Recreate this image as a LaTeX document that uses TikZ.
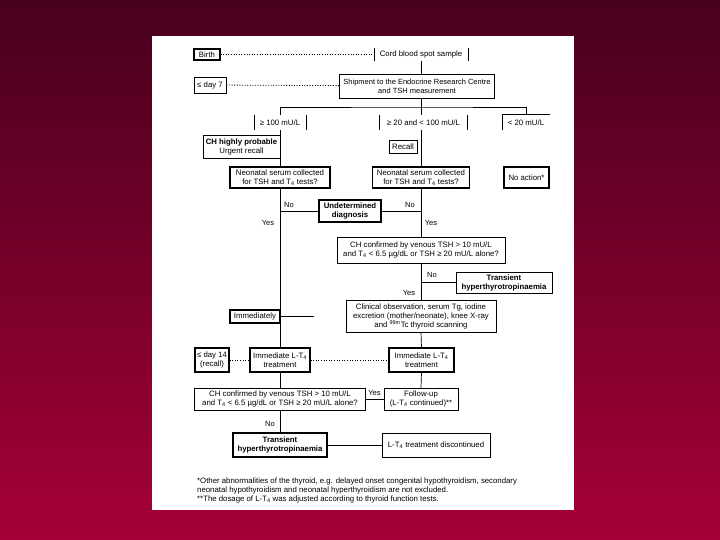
\documentclass[tikz,border=0pt]{standalone}
\usepackage{fontspec}
\setmainfont{Liberation Sans}
\usetikzlibrary{positioning}

\definecolor{bgtop}{RGB}{72,0,30}
\definecolor{bgbottom}{RGB}{165,0,55}
\newcommand{\Tfour}{T\textsubscript{4}}

\begin{document}
\begin{tikzpicture}[x=1pt, y=-1pt,
    stage/.style={draw, line width=0.7pt, inner sep=1pt, align=center, font=\fontsize{7.8}{9}\selectfont},
    stagebold/.style={stage, line width=1.2pt},
    open/.style={stage, draw=none},
    strong/.style={font=\fontsize{7.8}{9}\selectfont\bfseries},
    sz/.style 2 args={minimum width=#1pt, minimum height=#2pt},
    answer/.style={font=\fontsize{7.5}{8}\selectfont, inner sep=1pt},
    link/.style={line width=0.7pt},
    timeline/.style={line width=0.8pt, dash pattern=on 1pt off 1.6pt}]
    \useasboundingbox (0,0) rectangle (720,540);

    % Slide
    \shade[top color=bgtop, bottom color=bgbottom] (0,0) rectangle (720,540);
    \fill[white] (152,36) rectangle (574,510);

    % Screening
    \node[stagebold, sz={26}{11}] (birth) at (207,54.5) {Birth};
    \node[open, sz={93}{12}] (cord) at (421,54.5) {Cord blood spot sample};
    \node[stage, sz={32}{16}] (day7) at (210,85) {≤ day 7};
    \node[stage, font=\fontsize{7.5}{9}\selectfont, sz={155}{24}] (ship) at (417,86) {Shipment to the Endocrine Research Centre\\and TSH measurement};

    % TSH levels
    \node[open, sz={51}{15}] (high) at (280,122.5) {≥ 100 mU/L};
    \node[open, sz={87}{15}] (middle) at (423.5,122.5) {≥ 20 and < 100 mU/L};
    \node[open, sz={47}{15}] (low) at (526,122.5) {< 20 mU/L};

    \node[stage, sz={77}{23}] (urgent) at (241.5,146.5) {\textbf{CH highly probable}\\Urgent recall};
    \node[stage, sz={28}{13}] (recall) at (403,146.5) {Recall};
    \node[stagebold, sz={100}{21}] (serumA) at (280,177.5) {Neonatal serum collected\\for TSH and \Tfour{} tests?};
    \node[stagebold, sz={97}{21}] (serumB) at (421,177.5) {Neonatal serum collected\\for TSH and \Tfour{} tests?};
    \node[stagebold, sz={45}{21}] (noaction) at (526.5,177.5) {No action*};

    % Confirmation
    \node[stagebold, strong, sz={62}{22}] (undet) at (350,211) {Undetermined\\diagnosis};
    \node[stage, sz={168}{26}] (confA) at (421,250) {CH confirmed by venous TSH > 10 mU/L\\and \Tfour{} < 6.5 µg/dL or TSH ≥ 20 mU/L alone?};
    \node[stage, strong, sz={96}{21}] (transA) at (504,282.5) {Transient\\hyperthyrotropinaemia};
    \node[stage, sz={150}{32}] (clinic) at (421,316) {Clinical observation, serum Tg, iodine\\excretion (mother/neonate), knee X-ray\\and \textsuperscript{99m}Tc thyroid scanning};
    \node[stagebold, sz={50}{13}] (immed) at (255,316.5) {Immediately};

    % Treatment
    \node[stagebold, sz={34}{24}] (day14) at (212,360) {≤ day 14\\(recall)};
    \node[stagebold, sz={60}{24}] (treatA) at (280,360) {Immediate L-\Tfour\\treatment};
    \node[stagebold, sz={65}{24}] (treatB) at (421.5,360) {Immediate L-\Tfour\\treatment};
    \node[stage, sz={171}{22}] (confB) at (280,399) {CH confirmed by venous TSH > 10 mU/L\\and \Tfour{} < 6.5 µg/dL or TSH ≥ 20 mU/L alone?};
    \node[stage, sz={74}{22}] (follow) at (421,399) {Follow-up\\(L-\Tfour{} continued)**};
    \node[stagebold, strong, sz={94}{24}] (transB) at (280,445) {Transient\\hyperthyrotropinaemia};
    \node[stage, sz={108}{24}] (stop) at (436,445) {L-\Tfour{} treatment discontinued};

    % Answers
    \node[answer] (noA) at (289,205) {No};
    \node[answer] (noB) at (410,205) {No};
    \node[answer] (yesA) at (268,223) {Yes};
    \node[answer] (yesB) at (431,223) {Yes};
    \node[answer] (noC) at (432,275) {No};
    \node[answer] (yesC) at (409,293) {Yes};
    \node[answer] (yesD) at (374.5,393) {Yes};
    \node[answer] (noD) at (270,424) {No};

    % Footnotes
    \node[anchor=north west, align=left, inner sep=0pt, font=\fontsize{7.8}{9}\selectfont] (notes) at (197,478)
        {*Other abnormalities of the thyroid, e.g. delayed onset congenital hypothyroidism, secondary\\
         neonatal hypothyroidism and neonatal hyperthyroidism are not excluded.\\
         **The dosage of L-\Tfour{} was adjusted according to thyroid function tests.};

    % Time axis
    \draw[timeline] (birth) -- (cord);
    \draw[timeline] (day7) -- (ship);
    \draw[timeline] (day14) -- (treatA);
    \draw[timeline] (treatA) -- (treatB);

    % Open boxes
    \foreach \n in {cord, high, middle}
        \draw[link] (\n.north west) -- (\n.south west) (\n.north east) -- (\n.south east);
    \draw[link] (low.south west) |- (low.north east);

    % Flow
    \coordinate (bus) at (421,107);
    \coordinate (stub) at (314,316.5);
    \draw[link] (cord.south) -- (cord.south |- ship.north);
    \draw[link] (ship.south -| bus) -- (bus);
    \draw[link] (high.north) |- (bus) -| (low.north);
    \draw[link] (bus) -- (middle.north -| bus);
    \draw[link] (high.south) -- (serumA.north);
    \draw[link] (middle.south -| bus) -- (serumB.north -| bus);
    \draw[link] (serumA.south) -- (treatA.north);
    \draw[link] (undet.west) -- (undet.west -| serumA.south);
    \draw[link] (undet.east) -- (undet.east -| serumB.south);
    \draw[link] (serumB.south) -- (confA.north);
    \draw[link] (confA.south) -- (clinic.north);
    \draw[link] (transA.west) -- (transA.west -| confA.south);
    \draw[link] (immed.east) -- (stub);
    \draw[link] (clinic.south) -- (treatB.north);
    \draw[link] (treatA.south) -- (confB.north);
    \draw[link] (treatB.south) -- (follow.north);
    \draw[link] (confB.east) -- (follow.west);
    \draw[link] (confB.south) -- (transB.north);
    \draw[link] (transB) -- (stop);
\end{tikzpicture}
\end{document}
